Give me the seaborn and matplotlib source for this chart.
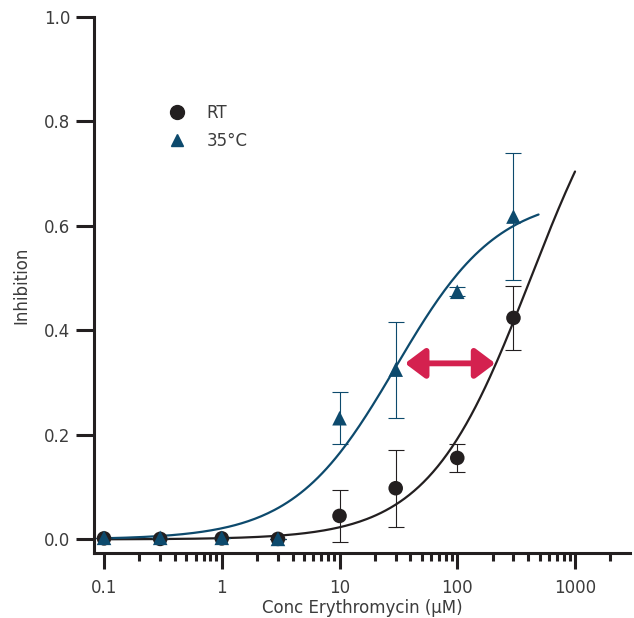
import numpy as np
import pandas as pd
import matplotlib
matplotlib.use("Agg")
import matplotlib.pyplot as plt
from matplotlib.ticker import FixedLocator, FuncFormatter, NullFormatter
from matplotlib.lines import Line2D
import seaborn as sns

# ---- data ----
conc = [0.1, 0.3, 1, 3, 10, 30, 100, 300]

rt_mean = [0.002, 0.001, 0.002, 0.001, 0.045, 0.098, 0.156, 0.424]
rt_err = [0.0, 0.0, 0.0, 0.0, 0.050, 0.074, 0.027, 0.062]

hot_mean = [0.003, 0.003, 0.003, 0.001, 0.232, 0.325, 0.474, 0.618]
hot_err = [0.0, 0.0, 0.0, 0.0, 0.050, 0.092, 0.009, 0.122]

# Hill fit parameters (top, EC50, slope, last x of the drawn curve)
rt_fit = (1.0, 420.0, 1.0, 1000.0)
hot_fit = (0.66, 30.0, 1.0, 490.0)

# shift arrow (x from, x to, y)
arrow_x = [36.0, 210.0]
arrow_y = 0.337

RT_COLOR = "#231f20"
HOT_COLOR = "#0d4a6d"
ARROW_COLOR = "#d4214f"
TEXT_COLOR = "#3c3c3c"

sns.set_theme(style="ticks")
plt.rcParams["font.family"] = ["DejaVu Sans"]


def hill_curve(params, x_min=0.1, n=200):
    top, ec50, slope, x_max = params
    x = np.logspace(np.log10(x_min), np.log10(x_max), n)
    y = top * x ** slope / (ec50 ** slope + x ** slope)
    return pd.DataFrame({"conc": x, "inhibition": y})


fig = plt.figure(figsize=(6.34, 6.18), dpi=100)
ax = fig.add_axes([94 / 634, 1 - 553 / 618, 536 / 634, 536 / 618])

# fitted curves
sns.lineplot(data=hill_curve(rt_fit), x="conc", y="inhibition", ax=ax,
             color=RT_COLOR, linewidth=1.6, zorder=2)
sns.lineplot(data=hill_curve(hot_fit), x="conc", y="inhibition", ax=ax,
             color=HOT_COLOR, linewidth=1.6, zorder=2)

# error bars
ax.errorbar(conc, rt_mean, yerr=rt_err, fmt="none", ecolor=RT_COLOR,
            elinewidth=0.8, capsize=6, capthick=0.8, zorder=3)
ax.errorbar(conc, hot_mean, yerr=hot_err, fmt="none", ecolor=HOT_COLOR,
            elinewidth=0.8, capsize=6, capthick=0.8, zorder=3)

# points
pts = pd.DataFrame({
    "conc": conc * 2,
    "inhibition": rt_mean + hot_mean,
    "group": ["RT"] * len(conc) + ["35°C"] * len(conc),
})
sns.scatterplot(data=pts, x="conc", y="inhibition", hue="group", style="group",
                palette={"RT": RT_COLOR, "35°C": HOT_COLOR},
                markers={"RT": "o", "35°C": "^"}, s=110, edgecolor="none",
                ax=ax, zorder=4, legend=False)

# shift arrow
ax.annotate("", xy=(arrow_x[1], arrow_y), xytext=(arrow_x[0], arrow_y),
            arrowprops=dict(arrowstyle="<|-|>,head_length=1.0,head_width=0.75",
                            color=ARROW_COLOR, lw=4.2, shrinkA=0, shrinkB=0),
            zorder=5)

# axes
ax.set_xscale("log")
ax.set_xlim(0.0822, 2930)
ax.set_ylim(-0.026, 1.0)
ax.xaxis.set_major_locator(FixedLocator([0.1, 1, 10, 100, 1000]))
ax.xaxis.set_major_formatter(FuncFormatter(lambda v, p: f"{v:g}"))
minor = [m * d for d in [0.1, 1, 10, 100] for m in range(2, 10)] + [2000]
ax.xaxis.set_minor_locator(FixedLocator(minor))
ax.xaxis.set_minor_formatter(NullFormatter())
ax.set_yticks([0.0, 0.2, 0.4, 0.6, 0.8, 1.0])
ax.yaxis.set_major_formatter(FuncFormatter(lambda v, p: f"{v:.1f}"))

sns.despine(ax=ax)
for side in ["left", "bottom"]:
    ax.spines[side].set_linewidth(2.2)
    ax.spines[side].set_color(RT_COLOR)
ax.tick_params(axis="y", which="major", length=13, width=2.2, color=RT_COLOR,
               labelsize=12, labelcolor=TEXT_COLOR, pad=4)
ax.tick_params(axis="x", which="major", length=11.5, width=2.2, color=RT_COLOR,
               labelsize=12, labelcolor=TEXT_COLOR, pad=7)
ax.tick_params(axis="x", which="minor", length=6, width=2.2, color=RT_COLOR)

ax.set_xlabel("Conc Erythromycin (µM)", fontsize=12, color=TEXT_COLOR, labelpad=2)
ax.set_ylabel("Inhibition", fontsize=12, color=TEXT_COLOR, labelpad=10)
ax.grid(False)

# legend
handles = [
    Line2D([], [], marker="o", linestyle="none", color=RT_COLOR, markersize=10),
    Line2D([], [], marker="^", linestyle="none", color=HOT_COLOR, markersize=9),
]
leg = ax.legend(handles, ["RT", "35°C"], frameon=False, loc="upper left",
                bbox_to_anchor=(0.095, 0.866), fontsize=12, handletextpad=0.8,
                labelspacing=0.6)
for t in leg.get_texts():
    t.set_color(TEXT_COLOR)

fig.savefig("out.png", dpi=100)
